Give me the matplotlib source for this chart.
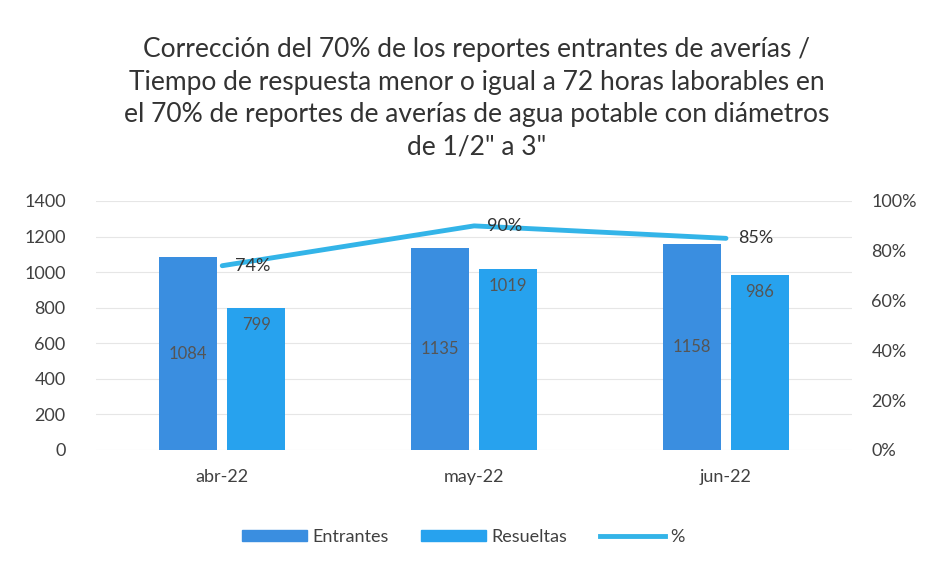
import matplotlib
matplotlib.use("Agg")
import matplotlib.pyplot as plt
import numpy as np
from matplotlib.patches import Patch
from matplotlib.lines import Line2D

categories = ["abr-22", "may-22", "jun-22"]
entrantes = [1084, 1135, 1158]
resueltas = [799, 1019, 986]
porcentaje = [0.74, 0.90, 0.85]
pct_labels = ["74%", "90%", "85%"]
left_ticks = [0, 200, 400, 600, 800, 1000, 1200, 1400]
right_ticks = [0, 0.2, 0.4, 0.6, 0.8, 1.0]
right_tick_labels = ["0%", "20%", "40%", "60%", "80%", "100%"]
title = ("Corrección del 70% de los reportes entrantes de averías /\n"
         "Tiempo de respuesta menor o igual a 72 horas laborables en\n"
         "el 70% de reportes de averías de agua potable con diámetros\n"
         "de 1/2\" a 3\"")

plt.rcParams['font.family'] = ['Lato', 'DejaVu Sans']

c_ent = '#3A8EE0'
c_res = '#27A2EE'
c_line = '#33B4E8'
txt = '#404040'

fig = plt.figure(figsize=(9.26, 5.71), dpi=100)
ax = fig.add_axes([0.104, 0.212, 0.816, 0.436])
ax2 = ax.twinx()

x = np.arange(len(categories))
w = 0.23
gap = 0.04
b1 = ax.bar(x - (w + gap) / 2, entrantes, w, color=c_ent, zorder=2)
b2 = ax.bar(x + (w + gap) / 2, resueltas, w, color=c_res, zorder=2)

for rect, v in zip(b1, entrantes):
    ax.text(rect.get_x() + rect.get_width() / 2, v / 2, str(v), ha='center', va='center',
            fontsize=12, color='#555555', zorder=3)
for rect, v in zip(b2, resueltas):
    ax.text(rect.get_x() + rect.get_width() / 2, v - 50, str(v), ha='center', va='top',
            fontsize=12, color='#555555', zorder=3)

ax.set_ylim(0, 1400)
ax.set_yticks(left_ticks)
ax.set_xlim(-0.5, len(categories) - 0.5)
ax.set_xticks(x)
ax.set_xticklabels(categories)
ax.grid(axis='y', color='#e6e6e6', linewidth=0.8, zorder=0)
ax.set_axisbelow(True)

ax2.plot(x, porcentaje, color=c_line, linewidth=3.5, solid_capstyle='round', zorder=4)
for xi, p, lab in zip(x, porcentaje, pct_labels):
    ax2.text(xi + 0.12, p, lab, ha='center', va='center', fontsize=13, color='#333333', zorder=5)
ax2.set_ylim(0, 1.0)
ax2.set_yticks(right_ticks)
ax2.set_yticklabels(right_tick_labels)

for a in (ax, ax2):
    for s in a.spines.values():
        s.set_visible(False)
    a.tick_params(length=0, labelsize=13, colors=txt)
ax.tick_params(axis='y', pad=22)
ax2.tick_params(axis='y', pad=14)
ax.tick_params(axis='x', pad=14)
ax.patch.set_visible(False)

fig.text(0.515, 0.935, title, ha='center', va='top', fontsize=19, color='#333333',
         linespacing=1.38)

handles = [Patch(color=c_ent, label='Entrantes'), Patch(color=c_res, label='Resueltas'),
           Line2D([0], [0], color=c_line, lw=3.5, label='%')]
fig.legend(handles=handles, loc='center', bbox_to_anchor=(0.5, 0.06), ncol=3, frameon=False,
           fontsize=13, handlelength=3.6, handleheight=0.6, columnspacing=1.8, handletextpad=0.3,
           labelcolor=txt)

fig.savefig("out.png", dpi=100, facecolor='white')
